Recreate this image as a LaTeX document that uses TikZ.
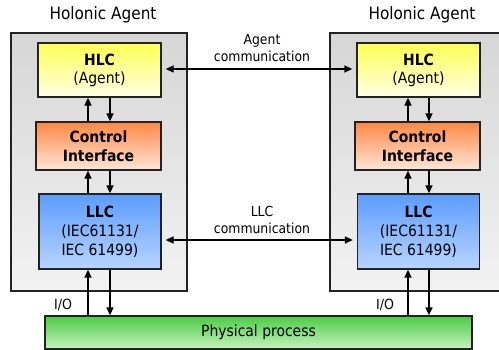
\documentclass[tikz,border=0pt]{standalone}
\usepackage{fontspec}
\setmainfont{DejaVu Sans Condensed}
\usetikzlibrary{arrows.meta}
\definecolor{frameTop}{HTML}{D6D6D6}
\definecolor{frameBot}{HTML}{F2F2F2}
\definecolor{hlcTop}{HTML}{FFFF55}
\definecolor{hlcBot}{HTML}{FFFFE6}
\definecolor{ciTop}{HTML}{FF8844}
\definecolor{ciBot}{HTML}{FFE6D8}
\definecolor{llcTop}{HTML}{5C9CFF}
\definecolor{llcBot}{HTML}{B8D4FF}
\definecolor{ppTop}{HTML}{4CCC44}
\definecolor{ppBot}{HTML}{C6F2C0}
\definecolor{edge}{HTML}{222222}
\tikzset{
  agentframe/.style={draw=edge, line width=1.8pt, top color=frameTop, bottom color=frameBot},
  layerbox/.style={draw=edge, line width=1.3pt, align=center, inner sep=0pt, font=\fontsize{15.5}{18}\selectfont},
  hlcbox/.style={layerbox, top color=hlcTop, bottom color=hlcBot, minimum width=123pt, minimum height=54pt},
  cibox/.style={layerbox, top color=ciTop, bottom color=ciBot, minimum width=125pt, minimum height=48pt, font=\fontsize{15.5}{18.5}\selectfont\bfseries},
  llcbox/.style={layerbox, top color=llcTop, bottom color=llcBot, minimum width=122pt, minimum height=75pt, font=\fontsize{15.5}{19}\selectfont},
  ppbox/.style={draw=edge, line width=1.3pt, top color=ppTop, bottom color=ppBot, minimum width=427pt, minimum height=33pt, font=\fontsize{15.5}{18}\selectfont},
  titlelab/.style={font=\fontsize{17}{20}\selectfont},
  commlab/.style={align=center, font=\fontsize{13.8}{16.5}\selectfont},
  iolab/.style={font=\fontsize{14}{16}\selectfont},
  arr/.style={line width=1.6pt, -{Triangle[length=8pt,width=7pt]}},
  darr/.style={line width=1.3pt, {Triangle[length=8pt,width=7pt]}-{Triangle[length=8pt,width=7pt]}, shorten >=4pt, shorten <=4pt}
}
\begin{document}
\begin{tikzpicture}[x=1pt,y=-1pt]
\useasboundingbox (0,0) rectangle (499,350);
\begin{scope}
\clip (0,0) rectangle (499,350);
% agent frames
\draw[agentframe] (11,33) rectangle (187,291);
\draw[agentframe] (330,33) rectangle (512,291);
\node[titlelab] (tL) at (103,15) {Holonic Agent};
\node[titlelab] (tR) at (422,15) {Holonic Agent};
% left agent
\node[hlcbox] (hlcL) at (99.5,70) {\textbf{HLC}\\(Agent)};
\node[cibox] (ciL) at (98.5,146) {Control\\Interface};
\node[llcbox] (llcL) at (100,231.5) {\textbf{LLC}\\(IEC61131/\\IEC 61499)};
% right agent
\node[hlcbox] (hlcR) at (418.5,70) {\textbf{HLC}\\(Agent)};
\node[cibox] (ciR) at (417.5,146) {Control\\Interface};
\node[llcbox] (llcR) at (418.5,231.5) {\textbf{LLC}\\(IEC61131/\\IEC 61499)};
% physical process
\node[ppbox] (pp) at (258.5,332.5) {Physical process};
% vertical arrow columns
\coordinate (uL) at (88,0);
\coordinate (dL) at (110,0);
\coordinate (uR) at (408,0);
\coordinate (dR) at (429,0);
\draw[arr] (ciL.north -| uL) -- (hlcL.south -| uL);
\draw[arr] (hlcL.south -| dL) -- (ciL.north -| dL);
\draw[arr] (llcL.north -| uL) -- (ciL.south -| uL);
\draw[arr] (ciL.south -| dL) -- (llcL.north -| dL);
\draw[arr] (pp.north -| uL) -- (llcL.south -| uL);
\draw[arr] (llcL.south -| dL) -- (pp.north -| dL);
\draw[arr] (ciR.north -| uR) -- (hlcR.south -| uR);
\draw[arr] (hlcR.south -| dR) -- (ciR.north -| dR);
\draw[arr] (llcR.north -| uR) -- (ciR.south -| uR);
\draw[arr] (ciR.south -| dR) -- (llcR.north -| dR);
\draw[arr] (pp.north -| uR) -- (llcR.south -| uR);
\draw[arr] (llcR.south -| dR) -- (pp.north -| dR);
% communication
\coordinate (aY) at (0,69);
\coordinate (lY) at (0,240);
\draw[darr] (hlcL.east |- aY) -- (hlcR.west |- aY);
\draw[darr] (llcL.east |- lY) -- (llcR.west |- lY);
\node[commlab] (acl) at (262,48) {Agent\\communication};
\node[commlab] (lcl) at (262,220) {LLC\\communication};
% I/O labels
\node[iolab] (ioL) at (63,305) {I/O};
\node[iolab] (ioR) at (385,305) {I/O};
\end{scope}
\end{tikzpicture}
\end{document}
